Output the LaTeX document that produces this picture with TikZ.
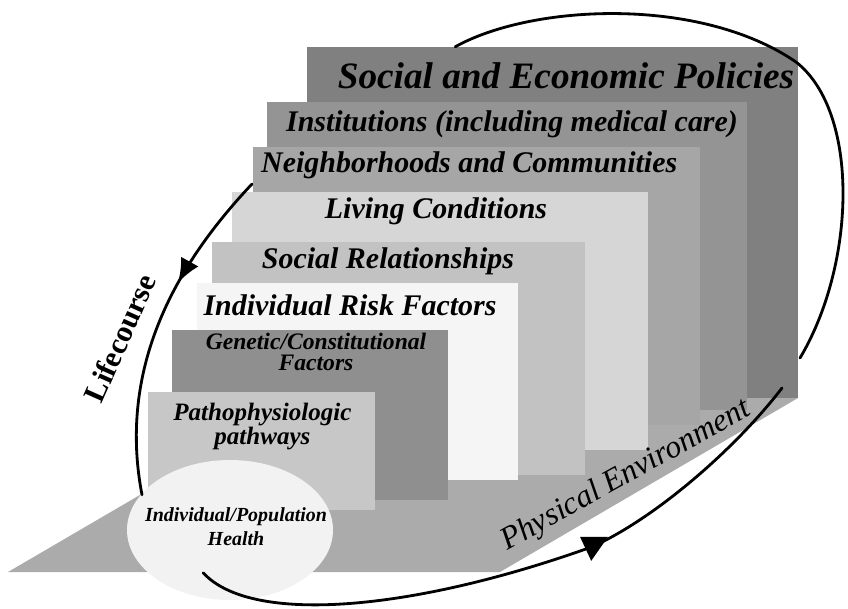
\documentclass[tikz,border=0pt]{standalone}
\usepackage{fontspec}
\setmainfont{Liberation Serif}
\usetikzlibrary{arrows.meta,decorations.markings}

\begin{document}
\begin{tikzpicture}
	\tikzstyle{every node}=[font=\bfseries\itshape]
	\tikzstyle{layer}=[font=\bfseries\itshape\fontsize{21.3}{22}\selectfont]
	\tikzstyle{inner layer}=[align=center]
	\tikzstyle{course}=[line width=2pt, line cap=round]
	\useasboundingbox (0,0) rectangle (21.2,15.2);
	% ground plane
	\fill [black!33] (0.2,0.9) -- (12.5,0.9) -- (19.95,5.25) -- (7.65,5.25) -- cycle;
	% the layers, from the back to the front
	\fill [black!50] (7.68,5.25) rectangle (19.95,14.03);
	\fill [black!42] (6.68,4.95) rectangle (18.68,12.65);
	\fill [black!35] (6.33,4.58) rectangle (17.5,11.53);
	\fill [black!16] (5.8,3.95) rectangle (16.2,10.4);
	\fill [black!24] (5.3,3.33) rectangle (14.63,9.15);
	\fill [black!4] (4.93,3.2) rectangle (12.95,8.13);
	\fill [black!44] (4.3,2.7) rectangle (11.2,6.95);
	\fill [black!22] (3.7,2.45) rectangle (9.38,5.4);
	\fill [black!5] (5.75,1.95) ellipse (2.575cm and 1.75cm);
	% labels
	\node (policies) [font=\bfseries\itshape\fontsize{26.5}{28}\selectfont] at (14.15,13.3) {Social and Economic Policies};
	\node (institutions) [layer] at (12.8,12.1) {Institutions (including medical care)};
	\node (neighborhoods) [layer] at (11.73,11.08) {Neighborhoods and Communities};
	\node (living) [layer] at (10.9,9.93) {Living Conditions};
	\node (relationships) [layer] at (9.7,8.68) {Social Relationships};
	\node (risk) [layer] at (8.75,7.58) {Individual Risk Factors};
	\node (genetic) [inner layer, font=\bfseries\itshape\fontsize{16.8}{14.5}\selectfont] at (7.9,6.4) {Genetic/Constitutional\\Factors};
	\node (patho) [inner layer, font=\bfseries\itshape\fontsize{17.8}{15}\selectfont] at (6.56,4.53) {Pathophysiologic\\pathways};
	\node (health) [inner layer, font=\bfseries\itshape\fontsize{14.2}{17}\selectfont] at (5.9,2.03) {Individual/Population\\Health};
	% the loop round the layers
	\draw [course] (11.38,14.03) .. controls (13.3,15.1) and (17.5,15.3) .. (19.9,13.65)
		.. controls (21.5,12.4) and (21.4,8.6) .. (20.0,6.25);
	\draw [course, postaction={decorate}, decoration={markings, mark=at position 0.36 with {\arrow{Latex[length=6mm,width=5mm]}}}]
		(6.3,10.6) .. controls (4.6,8.8) and (2.9,6.2) .. (3.55,2.83);
	\draw [course] (5.08,0.88) .. controls (6.3,-0.45) and (10.4,-0.05) .. (14.8,1.53)
		.. controls (16.4,2.25) and (18.4,4.0) .. (19.55,5.5);
	\fill (14.5,1.78) -- (15.2,1.78) -- (14.78,1.18) -- cycle;
	\node (lifecourse) [rotate=66, font=\bfseries\fontsize{21.5}{22}\selectfont] at (3.0,6.75) {Lifecourse};
	\node (physical) [rotate=29, font=\itshape\fontsize{22.6}{23}\selectfont] at (15.65,3.3) {Physical Environment};
\end{tikzpicture}
\end{document}
